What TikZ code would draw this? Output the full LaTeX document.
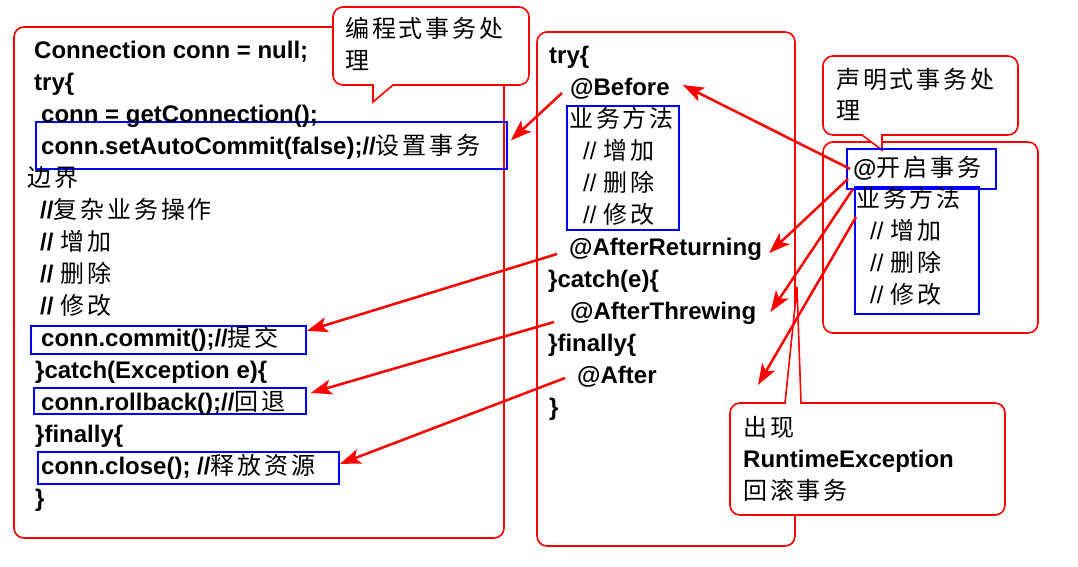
\documentclass[tikz,border=0pt]{standalone}
\usepackage{fontspec}
\usepackage{tikz}
\usetikzlibrary{arrows.meta}
\setmainfont{Liberation Sans}
\newfontfamily\zhfont[LetterSpace=12]{Noto Sans CJK SC}
\newcommand{\zh}[1]{{\zhfont\mdseries\fontsize{24}{24}\selectfont #1}}
\tikzset{
  code/.style={anchor=base west, inner sep=0pt, font=\fontsize{24}{24}\selectfont\bfseries}, % one code line
  redbox/.style={draw=red, line width=1.6pt},                 % frames and callouts
  bluebox/.style={draw=blue, line width=1.8pt, inner sep=0pt, anchor=north west},
  jump/.style={draw=red, line width=2.5pt, -{Stealth[length=21pt, width=15pt, inset=5pt]}}
}

\begin{document}
\begin{tikzpicture}[x=1pt, y=-1pt]
  \useasboundingbox (0,0) rectangle (1078,566);

  \draw[redbox, rounded corners=10pt] (14,27) rectangle (504,538);
  \draw[redbox, rounded corners=10pt] (537,32) rectangle (795,546);
  \draw[redbox, rounded corners=10pt] (823,142) rectangle (1038,333);

  \draw[redbox, fill=white] (373,85) [rounded corners=10pt] -- (333,85) -- (333,7) -- (529,7) -- (529,85) [sharp corners] -- (393,85) -- (373,102) -- cycle;
  \draw[redbox, fill=white] (862,135) [rounded corners=10pt] -- (823,135) -- (823,56) -- (1018,56) -- (1018,135) [sharp corners] -- (882,135) -- (882,150) -- cycle;
  \draw[redbox, fill=white] (785,403) [rounded corners=10pt] -- (730,403) -- (730,515) -- (1005,515) -- (1005,403) [sharp corners] -- (801,403) -- (797,287) -- cycle;

  \node[code] (cProgA) at (345,37) {\zh{编程式事务处}};
  \node[code] (cProgB) at (345,69) {\zh{理}};
  \node[code] (cDeclA) at (836,88) {\zh{声明式事务处}};
  \node[code] (cDeclB) at (836,119) {\zh{理}};
  \node[code] (cFailA) at (743,436) {\zh{出现}};
  \node[code] (cFailB) at (743,467) {RuntimeException};
  \node[code] (cFailC) at (743,499) {\zh{回滚事务}};

  \node[bluebox, minimum width=471pt, minimum height=47pt] (bAuto) at (35,121) {};
  \node[bluebox, minimum width=275pt, minimum height=28pt] (bCommit) at (30,325) {};
  \node[bluebox, minimum width=272pt, minimum height=26pt] (bRoll) at (33,387) {};
  \node[bluebox, minimum width=301pt, minimum height=32pt] (bClose) at (37,451) {};
  \node[bluebox, minimum width=112pt, minimum height=124pt] (bBiz) at (566,105) {};
  \node[bluebox, minimum width=149pt, minimum height=40pt] (bOpen) at (846,148) {};
  \node[bluebox, minimum width=124pt, minimum height=127pt] (bRbiz) at (854,186) {};

  \node[code] (lConn) at (34,58) {Connection conn = null;};
  \node[code] (lTry) at (34,90) {try\{};
  \node[code] (lGet) at (41,122) {conn = getConnection();};
  \node[code] (lAuto) at (41,154) {conn.setAutoCommit(false);//\zh{设置事务}};
  \node[code] (lEdge) at (27,186) {\zh{边界}};
  \node[code] (lOps) at (40,218) {//\zh{复杂业务操作}};
  \node[code] (lAdd) at (40,250) {// \zh{增加}};
  \node[code] (lDel) at (40,282) {// \zh{删除}};
  \node[code] (lMod) at (40,314) {// \zh{修改}};
  \node[code] (lCommit) at (41,346) {conn.commit();//\zh{提交}};
  \node[code] (lCatch) at (35,378) {\}catch(Exception e)\{};
  \node[code] (lRoll) at (41,410) {conn.rollback();//\zh{回退}};
  \node[code] (lFin) at (35,442) {\}finally\{};
  \node[code] (lClose) at (41,474) {conn.close(); //\zh{释放资源}};
  \node[code] (lEnd) at (35,506) {\}};

  \node[code] (mTry) at (549,63) {try\{};
  \node[code] (mBefore) at (570,95) {@Before};
  \node[code] (mBiz) at (569,127) {\zh{业务方法}};
  \node[code] (mAdd) at (583,159) {{\mdseries //} \zh{增加}};
  \node[code] (mDel) at (583,191) {{\mdseries //} \zh{删除}};
  \node[code] (mMod) at (583,223) {{\mdseries //} \zh{修改}};
  \node[code] (mReturning) at (569,255) {@AfterReturning};
  \node[code] (mCatch) at (548,287) {\}catch(e)\{};
  \node[code] (mThrowing) at (570,319) {@AfterThrewing};
  \node[code] (mFin) at (548,351) {\}finally\{};
  \node[code] (mAfter) at (577,383) {@After};
  \node[code] (mEnd) at (549,415) {\}};

  \node[code] (rOpen) at (853,176) {@\zh{开启事务}};
  \node[code] (rBiz) at (856,207) {\zh{业务方法}};
  \node[code] (rAdd) at (870,239) {{\mdseries //} \zh{增加}};
  \node[code] (rDel) at (870,271) {{\mdseries //} \zh{删除}};
  \node[code] (rMod) at (870,303) {{\mdseries //} \zh{修改}};

  \coordinate (fail) at (758,385);

  \draw[jump] ([shift={(-8pt,2pt)}]mBefore.base west) -- ([shift={(3pt,5pt)}]bAuto.east);
  \draw[jump] ([shift={(-12pt,1pt)}]mReturning.base west) -- ([yshift=9pt]bCommit.east);
  \draw[jump] ([shift={(-16pt,-3pt)}]mThrowing.base west) -- ([shift={(4pt,8pt)}]bRoll.east);
  \draw[jump] ([shift={(-12pt,5pt)}]mAfter.base west) -- ([yshift=4pt]bClose.east);
  \draw[jump] ([xshift=4pt]bOpen.west) -- ([shift={(13pt,10pt)}]mBefore.base east);
  \draw[jump] ([shift={(2pt,-10pt)}]bOpen.west) -- ([shift={(7pt,2pt)}]mReturning.base east);
  \draw[jump] ([shift={(-1pt,-3pt)}]bRbiz.north west) -- ([shift={(14pt,7pt)}]mThrowing.base east);
  \draw[jump] ([shift={(2pt,-31pt)}]bRbiz.north west) -- (fail);
\end{tikzpicture}
\end{document}
